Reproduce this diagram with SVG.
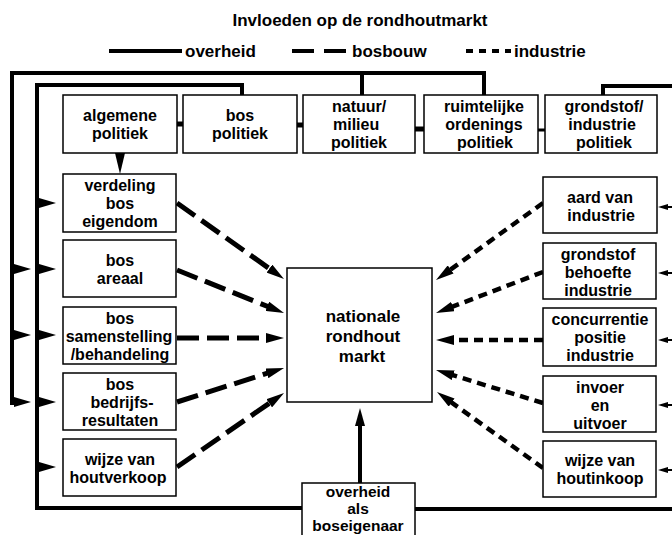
<svg xmlns="http://www.w3.org/2000/svg" width="672" height="535" viewBox="0 0 672 535">
<style>
text{font-family:"Liberation Sans",Arial,sans-serif;font-weight:bold;font-size:17px;fill:#000;text-anchor:middle}
.lb{font-size:16px}
.st{text-anchor:start}
.box{fill:#fff;stroke:#000;stroke-width:1.5}
.ov{fill:none;stroke:#000;stroke-width:4;stroke-linejoin:miter;stroke-linecap:square}
.bb{fill:none;stroke:#000;stroke-width:5;stroke-dasharray:22 8}
.in{fill:none;stroke:#000;stroke-width:4.5;stroke-dasharray:9 6}
.hd{fill:#000}
</style>
<defs>
<marker id="ah" markerUnits="userSpaceOnUse" markerWidth="18" markerHeight="10" refX="4" refY="5" orient="auto" viewBox="0 0 18 10">
<path d="M0,0 L18,5 L0,10 z" fill="#000"/>
</marker>
</defs>
<rect width="672" height="535" fill="#fff"/>
<text x="360" y="26">Invloeden op de rondhoutmarkt</text>
<g id="legend">
<line x1="109" y1="51" x2="182" y2="51" stroke="#000" stroke-width="4"/>
<text x="185" y="57" class="st">overheid</text>
<line x1="292" y1="51" x2="348" y2="51" stroke="#000" stroke-width="4" stroke-dasharray="22 10"/>
<text x="352" y="57" class="st">bosbouw</text>
<line x1="466" y1="51" x2="511" y2="51" stroke="#000" stroke-width="4" stroke-dasharray="7 6"/>
<text x="514" y="57" class="st">industrie</text>
</g>
<g id="connectors">
<polyline class="ov" points="484,95 484,73 12,73 12,403"/>
<line class="ov" x1="362" y1="73" x2="362" y2="95"/>
<polyline class="ov" points="242,95 242,85 37,85 37,508 302,508"/>
<line x1="415" y1="509" x2="672" y2="509" stroke="#000" stroke-width="4"/>
<polyline class="ov" points="603,95 603,86 674,86"/>
<line x1="177" y1="124" x2="183" y2="124" stroke="#000" stroke-width="5"/>
<line x1="297" y1="125" x2="303" y2="125" stroke="#000" stroke-width="5"/>
<line x1="415" y1="129" x2="424" y2="129" stroke="#000" stroke-width="5"/>
<line x1="538" y1="130" x2="545" y2="130" stroke="#000" stroke-width="3"/>
<path class="hd" d="M115,153 L125,153 L120,174 z"/>
<g class="hd">
<path d="M14,264 L31,269 L14,274 z"/>
<path d="M14,330 L31,335 L14,340 z"/>
<path d="M14,397 L31,402 L14,407 z"/>
<path d="M39,198 L56,203 L39,208 z"/>
<path d="M39,264 L56,269 L39,274 z"/>
<path d="M39,330 L56,335 L39,340 z"/>
<path d="M39,397 L56,402 L39,407 z"/>
<path d="M39,462 L56,467 L39,472 z"/>
<path d="M658,207 L668,204 L668,210 z"/>
<path d="M658,273 L668,270 L668,276 z"/>
<path d="M658,340 L668,337 L668,343 z"/>
<path d="M658,405 L668,402 L668,408 z"/>
<path d="M658,470 L668,467 L668,473 z"/>
</g>
<g stroke="#000" stroke-width="2">
<line x1="666" y1="207" x2="672" y2="207"/>
<line x1="666" y1="273" x2="672" y2="273"/>
<line x1="666" y1="340" x2="672" y2="340"/>
<line x1="666" y1="405" x2="672" y2="405"/>
<line x1="666" y1="470" x2="672" y2="470"/>
</g>
<line class="bb" x1="177" y1="203" x2="272.6" y2="270.9" marker-end="url(#ah)"/>
<line class="bb" x1="177" y1="270" x2="271" y2="307.8" marker-end="url(#ah)"/>
<line class="bb" x1="177" y1="338" x2="270" y2="338" marker-end="url(#ah)"/>
<line class="bb" x1="177" y1="402" x2="270.7" y2="372.2" marker-end="url(#ah)"/>
<line class="bb" x1="177" y1="467" x2="272.5" y2="401" marker-end="url(#ah)"/>
<line class="in" x1="543" y1="203" x2="447.4" y2="271.8" marker-end="url(#ah)"/>
<line class="in" x1="543" y1="272" x2="449.1" y2="308" marker-end="url(#ah)"/>
<line class="in" x1="543" y1="340" x2="450" y2="340" marker-end="url(#ah)"/>
<line class="in" x1="543" y1="403" x2="449.4" y2="374.1" marker-end="url(#ah)"/>
<line class="in" x1="543" y1="468" x2="448.4" y2="400.2" marker-end="url(#ah)"/>
<line x1="360" y1="483" x2="360" y2="422" stroke="#000" stroke-width="4" marker-end="url(#ah)"/>
</g>
<g id="algemene"><rect class="box" x="63" y="95" width="114" height="58"/><text class="lb" x="120" y="121">algemene<tspan x="120" dy="18">politiek</tspan></text></g>
<g id="bospolitiek"><rect class="box" x="183" y="95" width="114" height="58"/><text class="lb" x="240" y="121">bos<tspan x="240" dy="18">politiek</tspan></text></g>
<g id="natuur"><rect class="box" x="303" y="95" width="112" height="58"/><text x="332" y="112" class="lb st">natuur/<tspan x="333" dy="18">milieu</tspan><tspan x="331" dy="18">politiek</tspan></text></g>
<g id="ruimtelijke"><rect class="box" x="424" y="95" width="114" height="58"/><text class="lb" x="484" y="112">ruimtelijke<tspan x="484" dy="18">ordenings</tspan><tspan x="485" dy="18">politiek</tspan></text></g>
<g id="grondstofpol"><rect class="box" x="545" y="95" width="112" height="58"/><text class="lb" x="604" y="112">grondstof/<tspan x="602" dy="18">industrie</tspan><tspan x="604" dy="18">politiek</tspan></text></g>
<g id="verdeling"><rect class="box" x="63" y="174" width="113" height="58"/><text class="lb" x="120" y="191">verdeling<tspan x="120" dy="18">bos</tspan><tspan x="120" dy="18">eigendom</tspan></text></g>
<g id="areaal"><rect class="box" x="63" y="240" width="113" height="57"/><text class="lb" x="120" y="266">bos<tspan x="120" dy="18">areaal</tspan></text></g>
<g id="samenstelling"><rect class="box" x="63" y="307" width="113" height="57"/><text class="lb" x="120" y="324">bos<tspan x="119" dy="18">samenstelling</tspan><tspan x="120" dy="18">/behandeling</tspan></text></g>
<g id="bedrijfs"><rect class="box" x="63" y="373" width="113" height="57"/><text class="lb" x="120" y="390">bos<tspan x="122" dy="18">bedrijfs-</tspan><tspan x="120" dy="18">resultaten</tspan></text></g>
<g id="houtverkoop"><rect class="box" x="63" y="439" width="113" height="57"/><text class="lb" x="120" y="465">wijze van<tspan x="118" dy="18">houtverkoop</tspan></text></g>
<g id="aard"><rect class="box" x="543" y="177" width="114" height="56"/><text class="lb" x="600" y="203">aard van<tspan x="601" dy="18">industrie</tspan></text></g>
<g id="behoefte"><rect class="box" x="543" y="243" width="113" height="56"/><text class="lb" x="598" y="260">grondstof<tspan x="598" dy="18">behoefte</tspan><tspan x="598" dy="18">industrie</tspan></text></g>
<g id="concurrentie"><rect class="box" x="543" y="308" width="113" height="58"/><text class="lb" x="600" y="325">concurrentie<tspan x="600" dy="18">positie</tspan><tspan x="600" dy="18">industrie</tspan></text></g>
<g id="invoer"><rect class="box" x="543" y="376" width="113" height="56"/><text class="lb" x="600" y="393">invoer<tspan x="600" dy="18">en</tspan><tspan x="600" dy="18">uitvoer</tspan></text></g>
<g id="houtinkoop"><rect class="box" x="543" y="441" width="113" height="56"/><text class="lb" x="600" y="466">wijze van<tspan x="600" dy="18">houtinkoop</tspan></text></g>
<g id="markt"><rect class="box" x="287" y="268" width="145" height="134"/><text x="363" y="322">nationale<tspan x="363" dy="20">rondhout</tspan><tspan x="362" dy="20">markt</tspan></text></g>
<g id="boseigenaar"><rect class="box" x="302" y="483" width="113" height="60"/><text x="358" y="496.5" style="font-size:15.5px">overheid<tspan x="358" dy="17.4">als</tspan><tspan x="358" dy="17.4">boseigenaar</tspan></text></g>
</svg>
